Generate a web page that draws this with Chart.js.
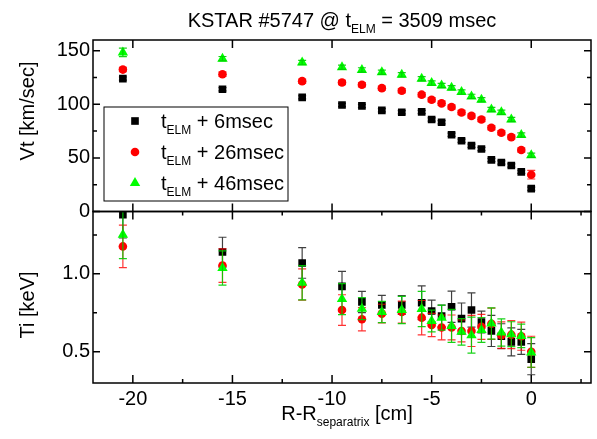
<!DOCTYPE html>
<html>
<head>
<meta charset="utf-8">
<script src="https://cdn.jsdelivr.net/npm/chart.js@4.4.0/dist/chart.umd.min.js"></script>
<style>
  html, body { margin: 0; padding: 0; background: #fff; }
  #wrap { width: 597px; height: 439px; }
</style>
</head>
<body>
<div id="wrap"><canvas id="kstarChart"></canvas></div>
<script>
// R - R_separatrix [cm]
const rPos = [-20.5, -15.5, -11.5, -9.5, -8.5, -7.5, -6.5, -5.5, -5, -4.5, -4, -3.5, -3, -2.5, -2, -1.5, -1, -0.5, 0];

// toroidal velocity Vt [km/sec]
const vt6  = [124, 114, 106.5, 99.4, 98.5, 94.4, 92.6, 92.9, 85.8, 83.3, 71.6, 66.0, 61.4, 58.3, 48.1, 45.7, 42.9, 37.0, 21.3];
const vt26 = [132.4, 128, 121.6, 120.4, 118.2, 115.1, 112.7, 109.0, 104.3, 100.9, 97.5, 92.3, 89.2, 85.8, 78.1, 73.5, 69.4, 57.4, 34.3];
const vt46 = [148.4, 142.6, 138.9, 134.6, 132.1, 129.9, 127.5, 123.8, 119.8, 117.6, 115.4, 111.4, 107.4, 104.3, 95.1, 92.6, 85.8, 71.3, 52.5];
const vtErr6  = [1.5, 1.5, 1.5, 1.5, 1.5, 1.5, 1.5, 1.5, 1.5, 1.5, 1.5, 1.5, 1.5, 1.5, 1.5, 1.5, 1.5, 1.5, 1.5];
const vtErr26 = [2, 2, 2, 2, 2, 2, 2, 2, 2, 2, 2, 2, 2, 2, 2, 2, 2, 2, 4];
const vtErr46 = [4, 2, 2, 2, 2, 2, 2, 2, 2, 2, 2, 2, 2, 2, 2, 2, 2, 2, 2];

// ion temperature Ti [keV]
const ti6  = [1.38, 1.14, 1.07, 0.92, 0.82, 0.80, 0.80, 0.815, 0.762, 0.73, 0.789, 0.713, 0.768, 0.691, 0.634, 0.60, 0.564, 0.564, 0.453];
const ti26 = [1.176, 1.053, 0.932, 0.768, 0.709, 0.745, 0.755, 0.719, 0.672, 0.656, 0.656, 0.634, 0.634, 0.66, 0.68, 0.607, 0.61, 0.60, 0.50];
const ti46 = [1.251, 1.038, 0.943, 0.838, 0.777, 0.755, 0.768, 0.775, 0.698, 0.719, 0.666, 0.628, 0.607, 0.64, 0.682, 0.624, 0.613, 0.602, 0.496];
const tiErr6  = [0.15, 0.095, 0.098, 0.096, 0.068, 0.062, 0.06, 0.108, 0.07, 0.07, 0.1, 0.1, 0.11, 0.07, 0.1, 0.08, 0.09, 0.08, 0.1];
const tiErr26 = [0.136, 0.107, 0.1, 0.098, 0.075, 0.06, 0.07, 0.11, 0.075, 0.08, 0.08, 0.07, 0.1, 0.08, 0.1, 0.085, 0.09, 0.09, 0.1];
const tiErr46 = [0.153, 0.11, 0.11, 0.1, 0.07, 0.068, 0.087, 0.113, 0.07, 0.08, 0.106, 0.085, 0.115, 0.08, 0.1, 0.087, 0.08, 0.075, 0.095];

// series names (t_ELM + ...)
const seriesDelay = ['+ 6msec', '+ 26msec', '+ 46msec'];

// tick values
const xMajorTicks = [-20, -15, -10, -5, 0];
const xMinorTicks = [-17.5, -12.5, -7.5, -2.5, 2.5];
const vtMajorTicks = [0, 50, 100, 150];
const vtMinorTicks = [25, 75, 125];
const tiMajorTicks = [0.5, 1.0];
const tiMinorTicks = [0.75, 1.25];

const FONT = 'Liberation Sans, Arial, sans-serif';

const styles = [
  { color: '#000000', bar: 'rgba(0,0,0,0.75)', pointStyle: 'rect', radius: 5.4 },
  { color: '#ff0000', bar: 'rgba(255,0,0,0.8)', pointStyle: 'circle', radius: 4.3 },
  { color: '#00ff00', bar: 'rgba(0,205,0,0.9)', pointStyle: 'triangle', radius: 6 }
];

function series(values, errs, idx, axis) {
  const s = styles[idx];
  return {
    label: 't_ELM ' + seriesDelay[idx],
    data: rPos.map((r, i) => ({ x: r, y: values[i] })),
    errors: errs,
    barColor: s.bar,
    yAxisID: axis,
    pointStyle: s.pointStyle,
    pointRadius: s.radius,
    pointHoverRadius: s.radius,
    backgroundColor: s.color,
    borderColor: s.color,
    borderWidth: 0,
    showLine: false,
    order: 3 - idx
  };
}

function setTicks(majors, minors) {
  return scale => {
    scale.ticks = majors.concat(minors).sort((a, b) => a - b).map(v => ({ value: v }));
  };
}

// error bars, drawn right after each dataset's own markers
const errorBars = {
  id: 'errorBars',
  afterDatasetDraw(chart, args) {
    const ds = chart.data.datasets[args.index];
    if (!ds.errors) return;
    const xs = chart.scales.x, ys = chart.scales[ds.yAxisID];
    const ctx = chart.ctx;
    ctx.save();
    ctx.beginPath();
    ctx.rect(chart.chartArea.left, ys.top, chart.chartArea.right - chart.chartArea.left, ys.bottom - ys.top);
    ctx.clip();
    ctx.strokeStyle = ds.barColor;
    ctx.lineWidth = 1.2;
    ds.data.forEach((p, i) => {
      const e = ds.errors[i];
      if (!e) return;
      const px = xs.getPixelForValue(p.x);
      const y1 = ys.getPixelForValue(p.y + e);
      const y2 = ys.getPixelForValue(p.y - e);
      ctx.beginPath();
      ctx.moveTo(px, y1); ctx.lineTo(px, y2);
      ctx.moveTo(px - 4, y1); ctx.lineTo(px + 4, y1);
      ctx.moveTo(px - 4, y2); ctx.lineTo(px + 4, y2);
      ctx.stroke();
    });
    ctx.restore();
  }
};

// boxed panels with inward ticks, titles and legend
const decor = {
  id: 'decor',
  afterDraw(chart) {
    const { ctx, chartArea: ca, scales } = chart;
    const xs = scales.x;
    ctx.save();
    ctx.strokeStyle = '#000';
    ctx.lineWidth = 1.5;
    const panels = [
      { s: scales.vt, majors: vtMajorTicks, minors: vtMinorTicks, xMinor: false },
      { s: scales.ti, majors: tiMajorTicks, minors: tiMinorTicks, xMinor: true }
    ];
    panels.forEach(p => {
      const s = p.s;
      ctx.strokeRect(ca.left, s.top, ca.right - ca.left, s.bottom - s.top);
      ctx.beginPath();
      p.majors.concat(p.minors).forEach(v => {
        const len = p.majors.includes(v) ? 7 : 4;
        const py = s.getPixelForValue(v);
        ctx.moveTo(ca.left, py); ctx.lineTo(ca.left + len, py);
        ctx.moveTo(ca.right, py); ctx.lineTo(ca.right - len, py);
      });
      const xt = p.xMinor ? xMajorTicks.concat(xMinorTicks) : xMajorTicks;
      xt.forEach(v => {
        const len = xMajorTicks.includes(v) ? 8 : 4;
        const px = xs.getPixelForValue(v);
        ctx.moveTo(px, s.top); ctx.lineTo(px, s.top + len);
        ctx.moveTo(px, s.bottom); ctx.lineTo(px, s.bottom - len);
      });
      ctx.stroke();
    });

    ctx.fillStyle = '#000';
    ctx.textBaseline = 'alphabetic';

    // text with a subscript part: [[text, isSub], ...]
    function subText(parts, x, y, size, align) {
      const widths = parts.map(([t, sub]) => {
        ctx.font = (sub ? Math.round(size * 0.62) : size) + 'px ' + FONT;
        return ctx.measureText(t).width;
      });
      const total = widths.reduce((a, b) => a + b, 0);
      let cx = align === 'center' ? x - total / 2 : x;
      ctx.textAlign = 'left';
      parts.forEach(([t, sub], i) => {
        ctx.font = (sub ? Math.round(size * 0.62) : size) + 'px ' + FONT;
        ctx.fillText(t, cx, sub ? y + size * 0.3 : y);
        cx += widths[i];
      });
    }

    // title
    subText([['KSTAR #5747 @ t', false], ['ELM', true], [' = 3509 msec', false]],
      (ca.left + ca.right) / 2, 27, 20, 'center');
    // x axis title
    subText([['R-R', false], ['separatrix', true], [' [cm]', false]],
      (ca.left + ca.right) / 2 + 5, 420, 20, 'center');

    // y axis titles
    ctx.font = '20px ' + FONT;
    ctx.textAlign = 'center';
    ctx.save();
    ctx.translate(34, 111);
    ctx.rotate(-Math.PI / 2);
    ctx.fillText('Vt [km/sec]', 0, 0);
    ctx.restore();
    ctx.save();
    ctx.translate(34, 305);
    ctx.rotate(-Math.PI / 2);
    ctx.fillText('Ti [keV]', 0, 0);
    ctx.restore();

    // legend
    const lx = ca.left + 11, ly = 107, lw = 184, lh = 94;
    ctx.lineWidth = 1;
    ctx.strokeRect(lx, ly, lw, lh);
    seriesDelay.forEach((d, i) => {
      const st = styles[i];
      const ry = ly + 14 + i * 31;
      ctx.fillStyle = st.color;
      Chart.helpers.drawPoint(ctx, { pointStyle: st.pointStyle, radius: st.radius, rotation: 0, borderWidth: 0 }, lx + 31, ry);
      ctx.fillStyle = '#000';
      subText([['t', false], ['ELM', true], [' ' + d, false]], lx + 57, ry + 7, 20, 'left');
    });
    ctx.restore();
  }
};

const yTickFont = { family: FONT, size: 20 };

new Chart(document.getElementById('kstarChart'), {
  type: 'scatter',
  data: {
    datasets: [
      series(vt6, vtErr6, 0, 'vt'),
      series(vt26, vtErr26, 1, 'vt'),
      series(vt46, vtErr46, 2, 'vt'),
      series(ti6, tiErr6, 0, 'ti'),
      series(ti26, tiErr26, 1, 'ti'),
      series(ti46, tiErr46, 2, 'ti')
    ]
  },
  options: {
    responsive: true,
    maintainAspectRatio: false,
    animation: false,
    layout: { padding: { top: 40, right: 2, left: 0, bottom: 0 } },
    plugins: { legend: { display: false }, tooltip: { enabled: false } },
    scales: {
      x: {
        type: 'linear', min: -22, max: 3,
        grid: { display: false, drawTicks: false },
        border: { display: false },
        afterBuildTicks: setTicks(xMajorTicks, xMinorTicks),
        afterFit: s => { s.height = 56; },
        ticks: {
          autoSkip: false, maxRotation: 0, padding: 4, color: '#000',
          font: { family: FONT, size: 20 },
          callback: v => xMajorTicks.includes(v) ? String(v) : ''
        }
      },
      // listed first so it is stacked at the bottom
      ti: {
        axis: 'y', type: 'linear', position: 'left', min: 0.3, max: 1.4,
        stack: 'panels', stackWeight: 1, offset: false,
        grid: { display: false, drawTicks: false },
        border: { display: false },
        afterBuildTicks: setTicks(tiMajorTicks, tiMinorTicks),
        afterFit: s => { s.width = 93; },
        ticks: {
          autoSkip: false, padding: 3, color: '#000', font: yTickFont,
          callback: v => tiMajorTicks.includes(v) ? v.toFixed(1) : ''
        }
      },
      vt: {
        axis: 'y', type: 'linear', position: 'left', min: 0, max: 160,
        stack: 'panels', stackWeight: 1,
        grid: { display: false, drawTicks: false },
        border: { display: false },
        afterBuildTicks: setTicks(vtMajorTicks, vtMinorTicks),
        afterFit: s => { s.width = 93; },
        ticks: {
          autoSkip: false, padding: 3, color: '#000', font: yTickFont,
          callback: v => vtMajorTicks.includes(v) ? String(v) : ''
        }
      }
    }
  },
  plugins: [errorBars, decor]
});
</script>
</body>
</html>
